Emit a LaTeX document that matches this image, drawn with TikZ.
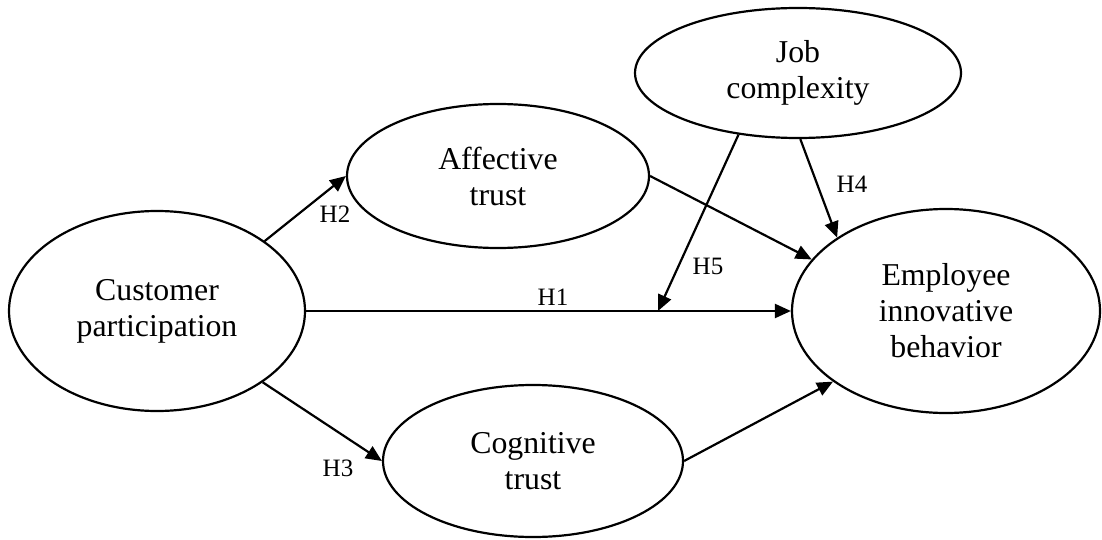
\documentclass[tikz,border=0pt]{standalone}
\usepackage{fontspec}
\setmainfont{Liberation Serif}
\usetikzlibrary{shapes.geometric,arrows.meta}
\begin{document}
\begin{tikzpicture}[x=0.5pt,y=-0.5pt,
  construct/.style={ellipse, draw, line width=1.1pt, inner sep=0pt, align=center,
    font=\fontsize{15.9}{18}\selectfont},
  effect/.style={-{Triangle[length=8pt,width=7pt]}, line width=1.1pt},
  hyp/.style={font=\fontsize{12.5}{14}\selectfont, inner sep=0pt}]
\useasboundingbox (0,0) rectangle (1102,540);

% constructs of the model
\node[construct, minimum width=148pt, minimum height=100pt] (cp)  at (157,311) {Customer\\participation};
\node[construct, minimum width=151pt, minimum height=72pt]  (at)  at (498,176) {Affective\\trust};
\node[construct, minimum width=163pt, minimum height=65pt]  (jc)  at (798,73)  {Job\\complexity};
\node[construct, minimum width=154pt, minimum height=102pt] (eib) at (946,311) {Employee\\innovative\\behavior};
\node[construct, minimum width=150pt, minimum height=76pt]  (ct)  at (533,461) {Cognitive\\trust};

% hypothesised paths
\draw[effect] (cp.33.8)  -- (at.west);
\draw[effect] (cp.-34.9) -- (ct.west);
\draw[effect] (cp.east)  -- (eib.west);
\draw[effect] (at.east)  -- (eib.159);
\draw[effect] (ct.east)  -- (eib.212.8);
\draw[effect] (jc.-88)   -- (eib.146.4);
\coordinate (mod) at (658,311);
\draw[effect] (jc.226)   -- (mod);

% hypothesis labels
\node[hyp] (h1) at (553,297) {H1};
\node[hyp] (h2) at (335,214) {H2};
\node[hyp] (h3) at (338,468) {H3};
\node[hyp] (h4) at (852,184) {H4};
\node[hyp] (h5) at (708,266) {H5};
\end{tikzpicture}
\end{document}
